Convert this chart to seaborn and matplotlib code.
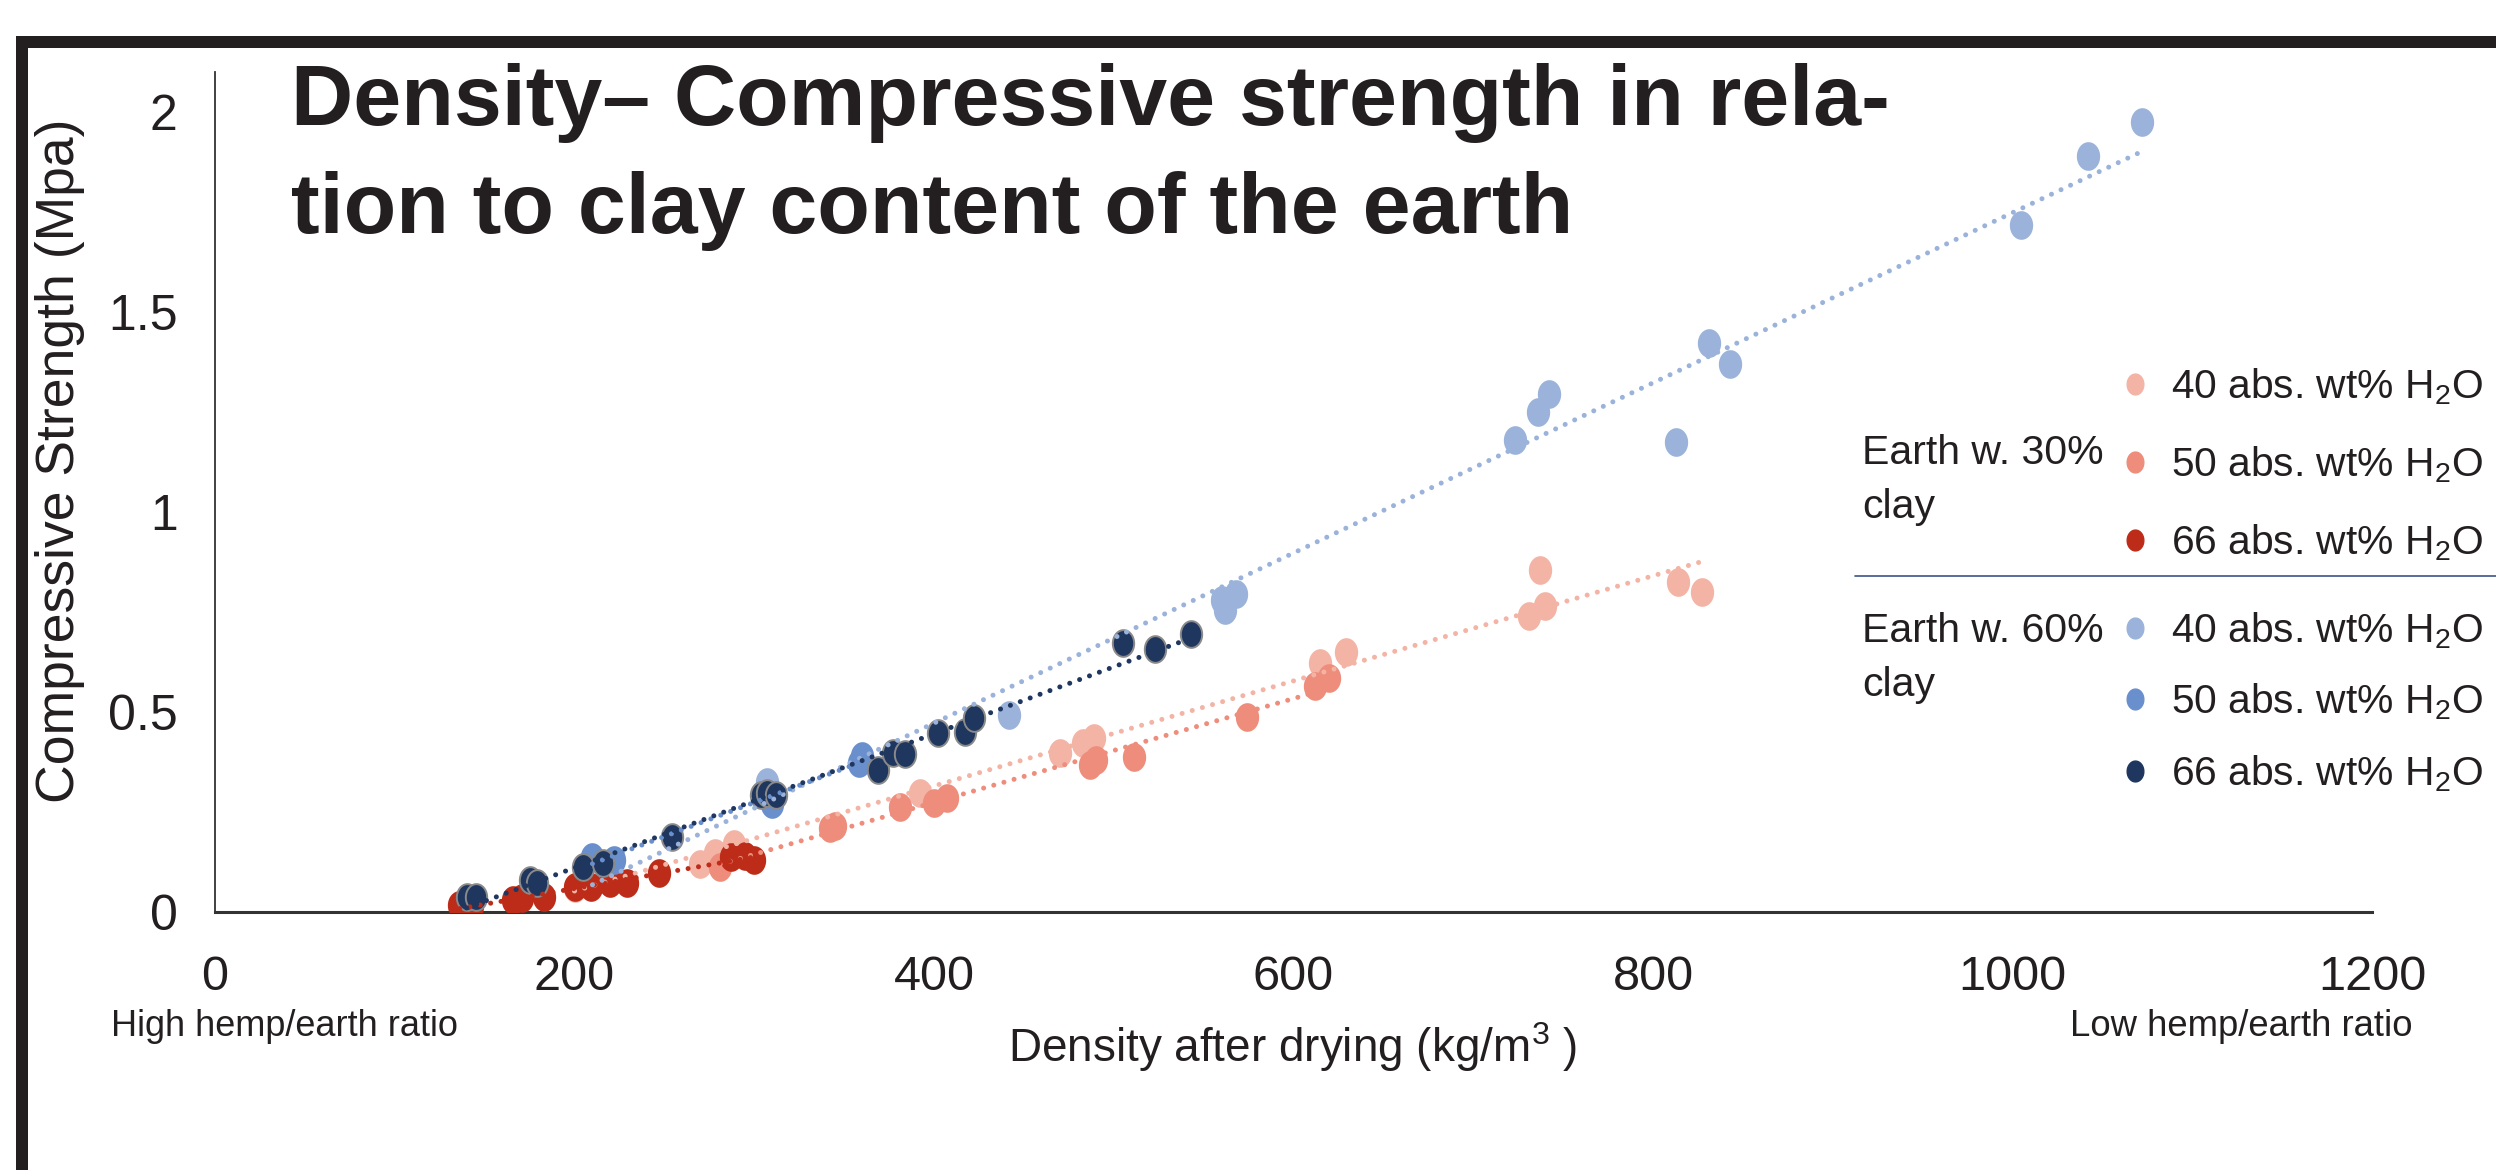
import numpy as np
import pandas as pd
import matplotlib.pyplot as plt
import seaborn as sns
from matplotlib.lines import Line2D
from matplotlib.patches import Rectangle
from matplotlib.path import Path

# ── Data ───────────────────────────────────────────────
# earth with 30% clay
c30_w40_x = [200, 270, 278, 289, 392, 470, 483, 489, 615, 629, 731, 737, 740, 814, 827]
c30_w40_y = [0.06, 0.12, 0.147, 0.17, 0.297, 0.397, 0.422, 0.434, 0.622, 0.651, 0.74, 0.855, 0.765, 0.826, 0.80]

c30_w50_x = [281, 342, 345, 381, 400, 407, 487, 490, 511, 574, 612, 620]
c30_w50_y = [0.113, 0.209, 0.215, 0.263, 0.272, 0.286, 0.368, 0.38, 0.388, 0.487, 0.565, 0.585]

c30_w66_x = [136, 143, 166, 171, 183, 200, 209, 220, 229, 247, 287, 295, 300]
c30_w66_y = [0.018, 0.015, 0.03, 0.035, 0.038, 0.063, 0.063, 0.072, 0.072, 0.097, 0.138, 0.14, 0.13]

# earth with 60% clay
c60_w40_x = [210, 307, 442, 560, 562, 568, 723, 736, 742, 813, 831, 843, 1005, 1042, 1072]
c60_w40_y = [0.135, 0.326, 0.493, 0.78, 0.755, 0.795, 1.18, 1.251, 1.295, 1.176, 1.422, 1.369, 1.718, 1.889, 1.976]

c60_w50_x = [210, 222, 310, 358, 360]
c60_w50_y = [0.138, 0.13, 0.27, 0.373, 0.39]

c60_w66_x = [140, 145, 175, 179, 205, 216, 254, 304, 307, 312, 369, 377, 384, 402, 417, 422, 505, 523, 543]
c60_w66_y = [0.038, 0.038, 0.08, 0.072, 0.113, 0.122, 0.188, 0.292, 0.297, 0.292, 0.355, 0.397, 0.395,
             0.447, 0.451, 0.484, 0.672, 0.657, 0.695]

water_labels = ["40 abs. wt% H$_2$O", "50 abs. wt% H$_2$O", "66 abs. wt% H$_2$O"]
clay_labels = ["Earth w. 30%\nclay", "Earth w. 60%\nclay"]

x_ticks = [0, 200, 400, 600, 800, 1000, 1200]
y_ticks = [0, 0.5, 1, 1.5, 2]
y_tick_labels = ["0", "0.5", "1", "1.5", "2"]

colors_30 = ["#f3b4a6", "#ee8d7b", "#bd2c18"]
colors_60 = ["#9bb3da", "#6a8fcd", "#1f365f"]

groups = [
    ("30", 0, c30_w40_x, c30_w40_y),
    ("30", 1, c30_w50_x, c30_w50_y),
    ("30", 2, c30_w66_x, c30_w66_y),
    ("60", 0, c60_w40_x, c60_w40_y),
    ("60", 1, c60_w50_x, c60_w50_y),
    ("60", 2, c60_w66_x, c60_w66_y),
]

sns.set_theme(style="white")
plt.rcParams["font.family"] = ["Liberation Sans", "DejaVu Sans"]
plt.rcParams["mathtext.fontset"] = "custom"
plt.rcParams["mathtext.rm"] = "Liberation Sans"
plt.rcParams["mathtext.it"] = "Liberation Sans:italic"
plt.rcParams["mathtext.bf"] = "Liberation Sans:bold"

W, H = 2496, 1170
INK = "#231f20"

# slightly tall ellipse marker (the original chart is stretched)
t = np.linspace(0, 2 * np.pi, 60)
ellipse = Path(np.column_stack([0.8 * np.cos(t), np.sin(t)]), closed=True)

fig = plt.figure(figsize=(W / 100, H / 100), dpi=100)
ax = fig.add_axes([215 / W, 1 - 912 / H, (2372 - 215) / W, (912 - 72) / H])

frames = []
for clay, wi, xs, ys in groups:
    df = pd.DataFrame({"density": xs, "strength": ys})
    frames.append(df)
    col = colors_30[wi] if clay == "30" else colors_60[wi]
    edge = "#8a8a8a" if (clay == "60" and wi == 2) else col
    sns.scatterplot(data=df, x="density", y="strength", ax=ax, color=col,
                    marker=ellipse, s=370, edgecolor=edge, linewidth=1.4,
                    legend=False, zorder=3)

# dotted linear trend lines on top of the markers
for (clay, wi, xs, ys), df in zip(groups, frames):
    col = colors_30[wi] if clay == "30" else colors_60[wi]
    sns.regplot(data=df, x="density", y="strength", ax=ax, scatter=False, ci=None,
                color=col, truncate=True,
                line_kws=dict(linestyle=(0, (0.01, 2.1)), dash_capstyle="round",
                              linewidth=3.6, zorder=4))

ax.set_xlim(0, 1200)
ax.set_ylim(0, 2.1)
ax.set_xticks(x_ticks)
ax.set_yticks(y_ticks)
ax.set_yticklabels(y_tick_labels)
ax.set_xlabel("")
ax.set_ylabel("")
sns.despine(ax=ax)
ax.spines["left"].set_color("#333333")
ax.spines["left"].set_linewidth(1.3)
ax.spines["bottom"].set_color("#333333")
ax.spines["bottom"].set_linewidth(2.2)
ax.tick_params(axis="both", direction="in", length=10, width=1.1, color="#333333",
               labelcolor=INK, labelsize=36)
ax.tick_params(axis="x", pad=31, labelsize=35)
ax.tick_params(axis="y", pad=27)

# axis texts
fig.text(60 / W, 1 - 461 / H, "Compressive Strength (Mpa)", rotation=90,
         ha="center", va="center", fontsize=38.5, color=INK)
fig.text(1293 / W, 1 - 1047 / H, "Density after drying (kg/m$^3$ )",
         ha="center", va="center", fontsize=33, color=INK)
fig.text(111 / W, 1 - 1036 / H, "High hemp/earth ratio", ha="left", va="baseline",
         fontsize=26, color=INK)
fig.text(2412 / W, 1 - 1036 / H, "Low hemp/earth ratio", ha="right", va="baseline",
         fontsize=26.3, color=INK)

# title
fig.text(291 / W, 1 - 125 / H, "Density– Compressive strength in rela-", ha="left",
         va="baseline", fontsize=62, fontweight="bold", color=INK)
fig.text(291 / W, 1 - 233 / H, "tion to clay content of the earth", ha="left",
         va="baseline", fontsize=62, fontweight="bold", color=INK)

# legend: two groups
for cols, top, spacing in [(colors_30, 366, 0.92), (colors_60, 610, 0.76)]:
    handles = [Line2D([], [], linestyle="none", marker=ellipse, markersize=15,
                      markerfacecolor=c, markeredgecolor=c) for c in cols]
    leg = fig.legend(handles, water_labels, loc="upper left",
                     bbox_to_anchor=(2119 / W, 1 - top / H), bbox_transform=fig.transFigure,
                     frameon=False, fontsize=29.3, borderpad=0, borderaxespad=0,
                     handlelength=0.8, handletextpad=0.47, labelspacing=spacing)
    for txt in leg.get_texts():
        txt.set_color(INK)

fig.text(1862 / W, 1 - 480 / H, clay_labels[0], ha="left", va="center", fontsize=29.5,
         color=INK, linespacing=1.5)
fig.text(1862 / W, 1 - 658 / H, clay_labels[1], ha="left", va="center", fontsize=29.5,
         color=INK, linespacing=1.5)
fig.add_artist(Line2D([1855 / W, 1.0], [1 - 576 / H, 1 - 576 / H], color="#3b5588",
                      linewidth=1.2, transform=fig.transFigure))

# black slide frame
fig.add_artist(Rectangle((16 / W, 1 - 48 / H), 1.0, 12 / H, transform=fig.transFigure,
                         color=INK, lw=0))
fig.add_artist(Rectangle((16 / W, 0), 12 / W, 1 - 36 / H, transform=fig.transFigure,
                         color=INK, lw=0))

fig.savefig("out.png", dpi=100)
